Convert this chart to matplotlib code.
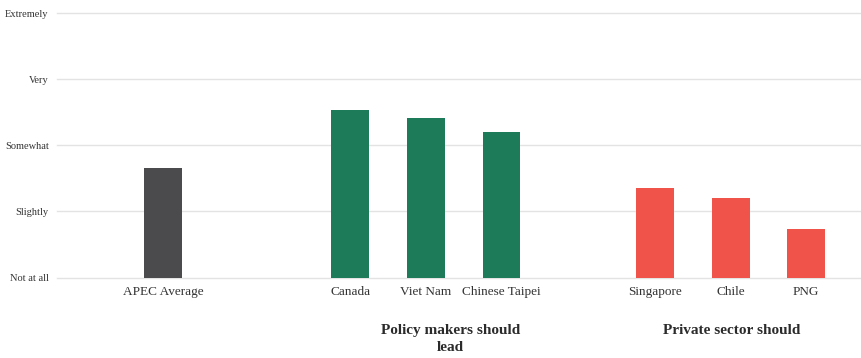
import numpy as np
import matplotlib
matplotlib.use('Agg')
import matplotlib.pyplot as plt

# Data (1 = Not at all ... 5 = Extremely)
levels = ['Not at all', 'Slightly', 'Somewhat', 'Very', 'Extremely']
economies = ['APEC Average', 'Canada', 'Viet Nam', 'Chinese Taipei', 'Singapore', 'Chile', 'PNG']
scores = [2.65, 3.53, 3.41, 3.20, 2.35, 2.21, 1.74]
groups = ['', 'policy', 'policy', 'policy', 'private', 'private', 'private']
group_titles = ['Policy makers should\nlead', 'Private sector should']

# Layout (bar slots in axis units)
xpos = [0, 2.47, 3.47, 4.47, 6.50, 7.50, 8.49]
colors = {'': '#4b4b4d', 'policy': '#1e7b5a', 'private': '#f0534a'}
title_x = [3.80, 7.51]

plt.rcParams['font.family'] = ['Liberation Serif', 'DejaVu Serif']

fig = plt.figure(figsize=(8.62, 3.58), dpi=100)
ax = fig.add_axes([57/862, 80.5/358, 805/862, 264.3/358])

ax.bar(xpos, [s - 1 for s in scores], bottom=1, width=0.5,
       color=[colors[g] for g in groups], zorder=3)

ax.set_xlim(-1.40, 9.23)
ax.set_ylim(1, 5)
ax.set_yticks(range(1, 6))
ax.set_yticklabels(levels, fontsize=7.5, color='#333333')
ax.set_xticks(xpos)
ax.set_xticklabels(economies, fontsize=9.5, color='#333333')
ax.tick_params(axis='both', length=0)
ax.tick_params(axis='y', pad=6)
ax.tick_params(axis='x', pad=6)
for v in range(1, 6):
    ax.axhline(v, color='#e3e3e3', linewidth=1, zorder=0, clip_on=False)
for s in ax.spines.values():
    s.set_visible(False)

for tx, t in zip(title_x, group_titles):
    ax.text(tx, -0.175, t, ha='center', va='top', fontsize=11, fontweight='bold',
            color='#2b2b2b', linespacing=1.45, transform=ax.get_xaxis_transform())

fig.savefig('out.png', dpi=100)
